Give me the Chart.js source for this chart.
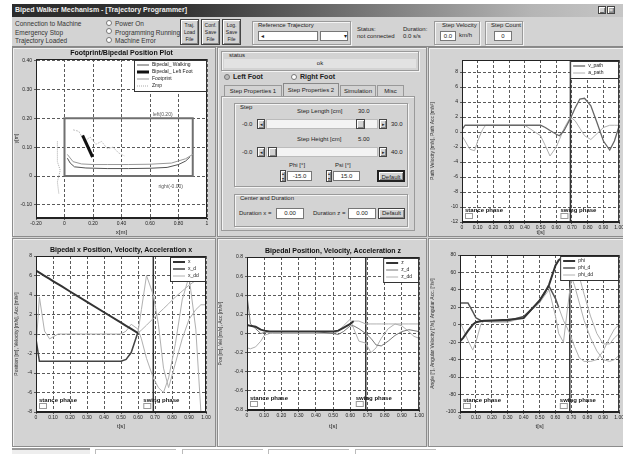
<!DOCTYPE html>
<html>
<head>
<meta charset="utf-8">
<script src="https://cdn.jsdelivr.net/npm/chart.js@4.4.1/dist/chart.umd.min.js"></script>
<style>
body{margin:0;width:623px;height:454px;overflow:hidden;background:#fff;position:relative;
  font-family:"Liberation Sans",Arial,sans-serif;font-size:7px;color:#222}
.a{position:absolute;white-space:nowrap}
.panel{position:absolute;border:1px solid #8c8c8c;box-shadow:inset 1px 1px 0 #f0f0f0;box-sizing:border-box}
.grp{position:absolute;border:1px solid #9a9a9a;box-shadow:inset 1px 1px 0 #f4f4f4,1px 1px 0 #f4f4f4;box-sizing:border-box}
.fld{position:absolute;background:#fff;border:1px solid #777;box-sizing:border-box;text-align:center;line-height:9px}
.btn{position:absolute;background:#d3d3d3;border:1px solid #444;box-shadow:inset 1px 1px 0 #fff,inset -1px -1px 0 #888;
  box-sizing:border-box;text-align:center}
.rad{position:absolute;width:6px;height:6px;border-radius:50%;background:#fff;border:1px solid #777;box-sizing:border-box}
canvas{position:absolute}
</style>
</head>
<body>
<div class="a" style="left:12px;top:4px;width:611px;height:443px;background:#d3d3d3"></div>
<div class="a" style="left:12px;top:4px;width:611px;height:13px;background:linear-gradient(to right,#2c2c2c 0,#333 28%,#b5b5b5 85%,#c6c6c6 100%)"></div>
<div class="a" style="left:15px;top:6px;color:#eee;font-weight:bold">Biped Walker Mechanism - [Trajectory Programmer]</div>
<div class="btn" style="left:598px;top:6px;width:8px;height:8px;font-size:6px;line-height:6px">_</div>
<div class="btn" style="left:607px;top:6px;width:8px;height:8px;font-size:6px;line-height:6px">□</div>

<!-- toolbar -->
<div class="a" style="left:15px;top:20px;line-height:8.5px;font-size:6.5px;color:#333">Connection to Machine<br>Emergency Stop<br>Trajectory Loaded</div>
<div class="rad" style="left:106px;top:20px"></div><div class="rad" style="left:106px;top:28px"></div><div class="rad" style="left:106px;top:37px"></div>
<div class="a" style="left:115px;top:20px;line-height:8.5px;font-size:6.5px;color:#333">Power On<br>Programming Running<br>Machine Error</div>
<div class="btn" style="left:180px;top:19px;width:19px;height:26px;font-size:5px;line-height:7px;padding-top:2px">Traj.<br>Load<br>File</div>
<div class="btn" style="left:201px;top:19px;width:19px;height:26px;font-size:5px;line-height:7px;padding-top:2px">Conf.<br>Save<br>File</div>
<div class="btn" style="left:222px;top:19px;width:19px;height:26px;font-size:5px;line-height:7px;padding-top:2px">Log.<br>Save<br>File</div>
<div class="grp" style="left:252px;top:21px;width:99px;height:24px"></div>
<div class="a" style="left:258px;top:22px;font-size:6px">Reference Trajectory</div>
<div class="fld" style="left:258px;top:31px;width:60px;height:10px;text-align:left;font-size:6px">&nbsp;◂</div>
<div class="fld" style="left:320px;top:31px;width:28px;height:10px;text-align:right;font-size:6px">▾</div>
<div class="a" style="left:357px;top:26px;font-size:6px;line-height:7px">Status:<br>not connected</div>
<div class="a" style="left:403px;top:26px;font-size:6px;line-height:7px">Duration:<br>0.0 s/s</div>
<div class="grp" style="left:434px;top:21px;width:46px;height:24px"></div>
<div class="a" style="left:442px;top:22px;font-size:6px">Step Velocity</div>
<div class="fld" style="left:440px;top:31px;width:16px;height:10px;font-size:6px">0.0</div>
<div class="a" style="left:459px;top:32px;font-size:6px">km/h</div>
<div class="grp" style="left:485px;top:21px;width:38px;height:24px"></div>
<div class="a" style="left:491px;top:22px;font-size:6px">Step Count</div>
<div class="fld" style="left:494px;top:31px;width:18px;height:10px;font-size:6px">0</div>
<div class="a" style="left:12px;top:46px;width:611px;height:1px;background:#888"></div>

<!-- panels -->
<div class="panel" style="left:12px;top:47px;width:204px;height:190px"></div>
<div class="panel" style="left:217px;top:47px;width:210px;height:190px"></div>
<div class="panel" style="left:428px;top:47px;width:196px;height:190px"></div>
<div class="panel" style="left:12px;top:238px;width:204px;height:209px"></div>
<div class="panel" style="left:217px;top:238px;width:210px;height:209px"></div>
<div class="panel" style="left:428px;top:238px;width:196px;height:209px"></div>

<!-- middle control panel -->
<div class="grp" style="left:221px;top:51px;width:198px;height:20px"></div>
<div class="a" style="left:229px;top:52px;font-size:6px">status</div>
<div class="a" style="left:224px;top:59px;width:192px;height:9px;background:#e2e2e2;text-align:center;font-size:6px;line-height:9px">ok</div>
<div class="rad" style="left:224px;top:74px;background:#bbb"></div>
<div class="a" style="left:233px;top:73px;font-weight:bold">Left Foot</div>
<div class="rad" style="left:291px;top:74px"></div>
<div class="a" style="left:300px;top:73px;font-weight:bold">Right Foot</div>
<div class="a" style="left:224px;top:85px;width:58px;height:11px;border:1px solid #999;border-bottom:none;font-size:6px;line-height:11px;text-align:center;box-sizing:border-box">Step Properties 1</div>
<div class="a" style="left:283px;top:83px;width:56px;height:14px;border:1px solid #888;border-bottom:none;background:#d3d3d3;font-size:6px;line-height:13px;text-align:center;box-sizing:border-box">Step Properties 2</div>
<div class="a" style="left:340px;top:85px;width:36px;height:11px;border:1px solid #999;border-bottom:none;font-size:6px;line-height:11px;text-align:center;box-sizing:border-box">Simulation</div>
<div class="a" style="left:377px;top:85px;width:27px;height:11px;border:1px solid #999;border-bottom:none;font-size:6px;line-height:11px;text-align:center;box-sizing:border-box">Misc</div>
<div class="grp" style="left:221px;top:96px;width:194px;height:135px;box-shadow:inset 1px 1px 0 #f4f4f4"></div>
<div class="grp" style="left:234px;top:103px;width:174px;height:84px"></div>
<div class="a" style="left:240px;top:104px;font-size:6px">Step</div>
<div class="a" style="left:297px;top:108px;font-size:6px">Step Length [cm]</div>
<div class="a" style="left:358px;top:108px;font-size:6px">30.0</div>
<div class="a" style="left:242px;top:121px;font-size:6px">-0.0</div>
<div class="btn" style="left:257px;top:119px;width:8px;height:10px;font-size:5px;line-height:8px">◂</div>
<div class="fld" style="left:266px;top:119px;width:112px;height:10px;background:#f3f3f3;border-color:#bbb"></div>
<div class="btn" style="left:356px;top:119px;width:9px;height:10px"></div>
<div class="btn" style="left:379px;top:119px;width:8px;height:10px;font-size:5px;line-height:8px">▸</div>
<div class="a" style="left:391px;top:121px;font-size:6px">30.0</div>
<div class="a" style="left:297px;top:136px;font-size:6px">Step Height [cm]</div>
<div class="a" style="left:358px;top:136px;font-size:6px">5.00</div>
<div class="a" style="left:242px;top:149px;font-size:6px">-0.0</div>
<div class="btn" style="left:257px;top:147px;width:8px;height:10px;font-size:5px;line-height:8px">◂</div>
<div class="fld" style="left:266px;top:147px;width:112px;height:10px;background:#f3f3f3;border-color:#bbb"></div>
<div class="btn" style="left:268px;top:147px;width:9px;height:10px"></div>
<div class="btn" style="left:379px;top:147px;width:8px;height:10px;font-size:5px;line-height:8px">▸</div>
<div class="a" style="left:391px;top:149px;font-size:6px">40.0</div>
<div class="a" style="left:289px;top:162px;font-size:6px">Phi [°]</div>
<div class="a" style="left:335px;top:162px;font-size:6px">Psi [°]</div>
<div class="btn" style="left:280px;top:170px;width:6px;height:12px;font-size:4px;line-height:5px">▴<br>▾</div>
<div class="fld" style="left:287px;top:171px;width:25px;height:10px;font-size:6px">-15.0</div>
<div class="btn" style="left:326px;top:170px;width:6px;height:12px;font-size:4px;line-height:5px">▴<br>▾</div>
<div class="fld" style="left:333px;top:171px;width:27px;height:10px;font-size:6px">15.0</div>
<div class="btn" style="left:377px;top:170px;width:28px;height:12px;font-size:6px;line-height:10px;border-width:2px;border-color:#222">Default</div>
<div class="grp" style="left:234px;top:194px;width:174px;height:33px"></div>
<div class="a" style="left:240px;top:195px;font-size:6px">Center and Duration</div>
<div class="a" style="left:239px;top:210px;font-size:6px">Duration x =</div>
<div class="fld" style="left:276px;top:208px;width:28px;height:11px;font-size:6px">0.00</div>
<div class="a" style="left:313px;top:210px;font-size:6px">Duration z =</div>
<div class="fld" style="left:348px;top:208px;width:28px;height:11px;font-size:6px">0.00</div>
<div class="btn" style="left:378px;top:208px;width:27px;height:11px;font-size:6px;line-height:9px">Default</div>

<!-- bottom tab strip -->
<div class="a" style="left:12px;top:448px;width:78px;height:6px;border-top:2px solid #999;background:#eee"></div>
<div class="a" style="left:95px;top:449px;width:80px;height:5px;border-top:1px solid #bbb;border-left:1px solid #bbb"></div>
<div class="a" style="left:182px;top:449px;width:80px;height:5px;border-top:1px solid #bbb;border-left:1px solid #bbb"></div>
<div class="a" style="left:268px;top:449px;width:80px;height:5px;border-top:1px solid #bbb;border-left:1px solid #bbb"></div>
<div class="a" style="left:355px;top:449px;width:80px;height:5px;border-top:1px solid #bbb;border-left:1px solid #bbb"></div>

<canvas id="cTL" width="199" height="188" style="left:14px;top:48px"></canvas>
<canvas id="cTR" width="195" height="188" style="left:430px;top:48px"></canvas>
<canvas id="cBL" width="199" height="190" style="left:14px;top:240px"></canvas>
<canvas id="cBM" width="207" height="190" style="left:218px;top:240px"></canvas>
<canvas id="cBR" width="195" height="190" style="left:430px;top:240px"></canvas>

<script>
// Fazna meja (stance / swing) in časovna os
const phaseBoundary = 0.69;
const timeS = [0, 0.02, 0.05, 0.08, 0.10, 0.13, 0.15, 0.20, 0.30, 0.40, 0.50, 0.53, 0.56,
  0.60, 0.62, 0.65, 0.69, 0.72, 0.75, 0.78, 0.82, 0.86, 0.90, 0.94, 0.97, 1.00];
const timeTicks = [0, 0.1, 0.2, 0.3, 0.4, 0.5, 0.6, 0.7, 0.8, 0.9, 1.0];

// Footprint plot (x-y)
const walkX = [0.02, 0.04, 0.07, 0.15, 0.30, 0.45, 0.60, 0.72, 0.80, 0.85, 0.88];
const walkY = [0.062, 0.045, 0.032, 0.028, 0.026, 0.026, 0.027, 0.030, 0.040, 0.052, 0.066];
const legX = [0.127, 0.197];
const legY = [0.141, 0.066];
const footX = [0.02, 0.06, 0.12, 0.20, 0.30, 0.45, 0.60, 0.75, 0.85, 0.90];
const footY = [0.075, 0.050, 0.042, 0.040, 0.040, 0.040, 0.041, 0.045, 0.060, 0.075];
const outlineX = [0.06, 0.10, 0.14, 0.18, 0.22, 0.26, 0.30, 0.34, 0.38, 0.42];
const outlineY = [0.16, 0.155, 0.12, 0.135, 0.11, 0.12, 0.095, 0.10, 0.08, 0.07];
const zmpX = [-0.05, -0.05, -0.03, -0.05, -0.04];
const zmpY = [0.12, 0.05, 0.02, -0.02, -0.06];
const rectX = [0, 0.9, 0.9, 0, 0];
const rectY = [0, 0, 0.2, 0.2, 0];
const tlXTicks = [-0.2, 0, 0.2, 0.4, 0.6, 0.8, 1.0];
const tlYTicks = [-0.1, 0, 0.1, 0.2, 0.3, 0.4];

// Path velocity / acceleration
const vPath = [0.3, 0.9, 0.9, 0.9, 0.9, 0.9, 0.9, 0.9, 0.9, 0.9, 0.9, 0.6, 0.2,
  -0.3, -0.5, 0.2, 1.8, 3.2, 4.4, 4.5, 3.5, 1.2, -1.2, -2.4, -1.2, 0.8];
const aPath = [-0.5, -1.2, -2.3, -2.5, -1.2, 0.3, 0.9, 0.9, 0.9, 0.9, -0.5, -1.8, -3.2,
  -2.0, -1.0, 0.5, 2.0, 1.5, 0.5, -0.5, -1.0, -0.2, 0.6, 0.9, 0.9, 0.9];
const trYTicks = [-12, -10, -8, -6, -4, -2, 0, 2, 4, 6, 8];

// x position / velocity / acceleration
const posX = [6.5, 6.29, 5.97, 5.65, 5.43, 5.11, 4.9, 4.36, 3.3, 2.23, 1.16, 0.84, 0.52,
  0.1, 0.4, 0.9, 1.6, 2.1, 2.6, 3.1, 3.8, 4.4, 5.0, 5.5, 5.7, 5.9];
const velX = [-0.5, -2.8, -2.8, -2.8, -2.8, -2.8, -2.8, -2.8, -2.8, -2.8, -2.8, -2.6, -1.9,
  0.2, 2.5, 6.0, 4.0, 1.0, -3.5, -5.5, -3.0, -0.5, 1.5, 2.5, 3.0, 3.0];
const accX = [-1.5, 3.8, 0.3, -0.5, -0.3, 0, 0, 0, 0, 0, 0, 0.3, 1.0,
  0.5, -0.5, -2.5, -4.5, -5.5, -6.0, -4.5, -1.0, 3.5, 5.9, 0.5, -8.0, -8.0];
const blYTicks = [-8, -6, -4, -2, 0, 2, 4, 6, 8];

// z position / velocity / acceleration
const posZ = [0.09, 0.08, 0.07, 0.04, 0.03, 0.02, 0.02, 0.02, 0.02, 0.02, 0.02, 0.03, 0.06,
  0.10, 0.13, 0.13, 0.10, 0.10, 0.10, 0.10, 0.10, 0.10, 0.10, 0.10, 0.10, 0.10];
const velZ = [0.4, 0.1, 0.05, 0, 0.01, 0.02, 0.02, 0.02, 0.02, 0.02, 0, -0.01, 0.02,
  0.08, 0.08, 0.05, 0, -0.05, -0.12, -0.13, -0.08, -0.02, 0.02, 0.04, 0.03, 0.02];
const accZ = [-0.15, -0.16, -0.14, -0.08, -0.02, 0, 0, 0, 0, 0, 0, 0.02, 0.08,
  0.15, 0.05, -0.08, -0.1, -0.2, -0.15, -0.05, 0.05, 0.1, 0.08, 0.02, -0.03, -0.05];
const bmYTicks = [-0.8, -0.6, -0.4, -0.2, 0, 0.2, 0.4, 0.6, 0.8];

// footplate angle
const phi = [-19, -15, -7, 0, 3, 4, 4.5, 5, 5.7, 7.6, 28, 36, 46,
  68, 74, 78, 60, 45, 25, 5, -15, -30, -40, -42, -40, -35];
const phiD = [25, 25, 25, 15, 8, 5, 4.6, 4.6, 4.6, 9.5, 27, 37, 44,
  30, 20, 5, -10, -25, -38, -42, -42, -40, -30, -15, -5, 0];
const phiDD = [4, -5, -18, -29, -20, 0, 4, 3, 3, 8, 25, 33, 40,
  10, -10, -20, 40, 69, 55, 35, 10, -10, -22, -22, -15, -10];
const brYTicks = [-100, -80, -60, -40, -20, 0, 20, 40, 60, 80];

const FONT = '"Liberation Sans", Arial, sans-serif';
const LIGHT = '#b0b0b0';

// risanje okvirja, naslova, legende in oznak faz
const panelPlugin = {
  id: 'panel',
  beforeDraw(chart) {
    const { ctx, chartArea: a } = chart;
    ctx.save();
    ctx.fillStyle = '#fff';
    ctx.fillRect(a.left, a.top, a.right - a.left, a.bottom - a.top);
    ctx.restore();
  },
  afterDraw(chart) {
    const o = chart.options.plugins.panel;
    const { ctx, chartArea: a } = chart;
    ctx.save();
    ctx.strokeStyle = '#222';
    ctx.lineWidth = 1;
    ctx.strokeRect(a.left + 0.5, a.top + 0.5, a.right - a.left - 1, a.bottom - a.top - 1);
    ctx.fillStyle = '#111';
    ctx.font = 'bold 7px ' + FONT;
    ctx.textAlign = 'center';
    ctx.textBaseline = 'bottom';
    ctx.fillText(o.title, o.titleX || (a.left + a.right) / 2, a.top - 2);

    // legenda
    const items = chart.data.datasets.filter(d => d.label);
    const lw = o.legendW, lh = items.length * 7 + 3;
    const lx = a.right - lw - (o.legendRight || 1), ly = a.top + 1;
    ctx.fillStyle = '#fff';
    ctx.fillRect(lx, ly, lw, lh);
    ctx.strokeStyle = '#333';
    ctx.strokeRect(lx + 0.5, ly + 0.5, lw, lh);
    ctx.font = '5px ' + FONT;
    ctx.textAlign = 'left';
    ctx.textBaseline = 'middle';
    items.forEach((d, i) => {
      const y = ly + 5 + i * 7;
      ctx.strokeStyle = d.borderColor;
      ctx.lineWidth = d.borderWidth;
      ctx.setLineDash(d.borderDash || []);
      ctx.beginPath(); ctx.moveTo(lx + 3, y); ctx.lineTo(lx + 15, y); ctx.stroke();
      ctx.setLineDash([]);
      ctx.fillStyle = '#222';
      ctx.fillText(d.label, lx + 18, y);
    });

    // oznake faz
    if (o.phases) {
      const bx = chart.scales.x.getPixelForValue(phaseBoundary);
      ctx.font = 'bold 6px ' + FONT;
      ctx.fillStyle = '#111';
      ctx.textBaseline = 'bottom';
      ctx.fillText('stance phase', a.left + 3, a.bottom - 9);
      ctx.fillText('swing phase', bx - 10, a.bottom - 9);
      ctx.strokeStyle = '#999';
      ctx.lineWidth = 1;
      ctx.strokeRect(a.left + 3.5, a.bottom - 8.5, 7, 5);
      ctx.strokeRect(bx - 9.5, a.bottom - 8.5, 7, 5);
    }
    if (o.notes) {
      ctx.font = '5px ' + FONT;
      ctx.fillStyle = '#555';
      ctx.textBaseline = 'middle';
      o.notes.forEach(n => ctx.fillText(n.text,
        chart.scales.x.getPixelForValue(n.x), chart.scales.y.getPixelForValue(n.y)));
    }
    ctx.restore();
  }
};

function axisY(ticks, width, title, fmt, min, max) {
  return {
    min: min, max: max,
    afterBuildTicks: s => { s.ticks = ticks.map(v => ({ value: v })); },
    afterFit: s => { s.width = width; },
    ticks: { font: { size: 5, family: FONT }, color: '#222', padding: 2, callback: fmt },
    grid: { color: '#5a5a5a', tickLength: 2 },
    border: { dash: [3, 2], color: '#222' },
    title: { display: true, text: title, font: { size: 5, family: FONT }, color: '#333', padding: 0 }
  };
}

function axisX(ticks, height, title, fmt, min, max) {
  return {
    type: 'linear', min: min, max: max,
    afterBuildTicks: s => { s.ticks = ticks.map(v => ({ value: v })); },
    afterFit: s => { s.height = height; },
    ticks: { font: { size: 5, family: FONT }, color: '#222', padding: 1, maxRotation: 0, autoSkip: false, callback: fmt },
    grid: { color: '#5a5a5a', tickLength: 2 },
    border: { dash: [3, 2], color: '#222' },
    title: { display: true, text: title, font: { size: 6, family: FONT }, color: '#222', padding: 0 }
  };
}

const timeFmt = v => v === 0 ? '0' : v.toFixed(2);

function pairs(xs, ys) { return xs.map((x, i) => ({ x: x, y: ys[i] })); }

function timeChart(id, o) {
  const datasets = o.series.map(s => ({
    label: s.label,
    data: pairs(timeS, s.values),
    borderColor: s.color,
    borderWidth: s.width,
    pointRadius: 0,
    segment: s.fade !== undefined ? {
      borderColor: c => c.p0.parsed.x >= s.fade ? LIGHT : undefined,
      borderWidth: c => c.p0.parsed.x >= s.fade ? 1 : undefined
    } : undefined
  }));
  datasets.push({
    label: '',
    data: [{ x: phaseBoundary, y: o.yMin }, { x: phaseBoundary, y: o.yMax }],
    borderColor: '#333', borderWidth: 1.5, pointRadius: 0
  });
  new Chart(document.getElementById(id), {
    type: 'line',
    data: { datasets: datasets },
    options: {
      responsive: false, animation: false,
      layout: { padding: { top: o.padTop, right: o.padRight } },
      plugins: {
        legend: { display: false }, tooltip: { enabled: false },
        panel: { title: o.title, titleX: o.titleX, legendW: o.legendW, legendRight: o.legendRight, phases: true }
      },
      scales: {
        x: axisX(timeTicks, o.xH, 't[s]', timeFmt, 0, 1.0),
        y: axisY(o.yTicks, o.yW, o.yTitle, o.yFmt, o.yMin, o.yMax)
      }
    },
    plugins: [panelPlugin]
  });
}

// Footprint plot
new Chart(document.getElementById('cTL'), {
  type: 'scatter',
  data: {
    datasets: [
      { label: 'Bipedal_ Walking', data: pairs(walkX, walkY), showLine: true, borderColor: '#555', borderWidth: 1, pointRadius: 0 },
      { label: 'Bipedal_ Left Foot', data: pairs(legX, legY), showLine: true, borderColor: '#111', borderWidth: 3, pointRadius: 0 },
      { label: 'Footprint', data: pairs(footX, footY), showLine: true, borderColor: '#999', borderWidth: 1, pointRadius: 0 },
      { label: 'Zmp', data: pairs(zmpX, zmpY), showLine: true, borderColor: '#aaa', borderWidth: 1, borderDash: [1, 1], pointRadius: 0 },
      { label: '', data: pairs(outlineX, outlineY), showLine: true, borderColor: '#c4c4c4', borderWidth: 1, borderDash: [2, 1], pointRadius: 0 },
      { label: '', data: pairs(rectX, rectY), showLine: true, borderColor: '#707070', borderWidth: 2, pointRadius: 0 }
    ]
  },
  options: {
    responsive: false, animation: false,
    layout: { padding: { top: 11, right: 6 } },
    plugins: {
      legend: { display: false }, tooltip: { enabled: false },
      panel: {
        title: 'Footprint/Bipedal Position Plot', legendW: 72, legendRight: 1,
        notes: [{ text: 'left(0.20)', x: 0.62, y: 0.214 }, { text: 'right(-0.00)', x: 0.66, y: -0.035 }]
      }
    },
    scales: {
      x: axisX(tlXTicks, 18, 'x[m]', v => v === 0 ? '0' : (v === 1 ? '1' : v.toFixed(2)), -0.2, 1.0),
      y: axisY(tlYTicks, 22, 'y[m]', v => v === 0 ? '0' : v.toFixed(2), -0.145, 0.405)
    }
  },
  plugins: [panelPlugin]
});

timeChart('cTR', {
  title: 'Bipedal Path/Velocity Path Acceleration', titleX: 541,
  yTitle: 'Path Velocity [m/s], Path Acc [m/s²]', yTicks: trYTicks, yMin: -12, yMax: 9.6,
  yFmt: v => String(v), yW: 32, xH: 14, padTop: 12, padRight: 4, legendW: 48, legendRight: 1,
  series: [
    { label: 'v_path', values: vPath, color: '#666', width: 1.3 },
    { label: 'a_path', values: aPath, color: LIGHT, width: 1 }
  ]
});

timeChart('cBL', {
  title: 'Bipedal x Position, Velocity, Acceleration x',
  yTitle: 'Position [m], Velocity [m/s], Acc [m/s²]', yTicks: blYTicks, yMin: -8, yMax: 8,
  yFmt: v => String(v), yW: 22, xH: 18, padTop: 16, padRight: 7, legendW: 35, legendRight: 1,
  series: [
    { label: 'x', values: posX, color: '#333', width: 2, fade: 0.6 },
    { label: 'x_d', values: velX, color: '#444', width: 1.5, fade: 0.6 },
    { label: 'x_dd', values: accX, color: LIGHT, width: 1 }
  ]
});

timeChart('cBM', {
  title: 'Bipedal Position, Velocity, Acceleration z',
  yTitle: 'Pos [m], Vel [m/s], Acc [m/s²]', yTicks: bmYTicks, yMin: -0.8, yMax: 0.8,
  yFmt: v => v === 0 ? '0' : v.toFixed(1), yW: 29, xH: 20, padTop: 17, padRight: 4, legendW: 35, legendRight: 1,
  series: [
    { label: 'z', values: posZ, color: '#333', width: 2, fade: 0.62 },
    { label: 'z_d', values: velZ, color: '#777', width: 1 },
    { label: 'z_dd', values: accZ, color: LIGHT, width: 1 }
  ]
});

timeChart('cBR', {
  title: 'Footplate Angle, Velocity, Acceleration phi', titleX: 541,
  yTitle: 'Angle [°], Angular Velocity [°/s], Angular Acc. [°/s²]', yTicks: brYTicks, yMin: -100, yMax: 80,
  yFmt: v => String(v), yW: 30, xH: 18, padTop: 15, padRight: 3, legendW: 58, legendRight: 1,
  series: [
    { label: 'phi', values: phi, color: '#333', width: 2, fade: 0.65 },
    { label: 'phi_d', values: phiD, color: '#555', width: 1.5, fade: 0.62 },
    { label: 'phi_dd', values: phiDD, color: LIGHT, width: 1 }
  ]
});
</script>
</body>
</html>
